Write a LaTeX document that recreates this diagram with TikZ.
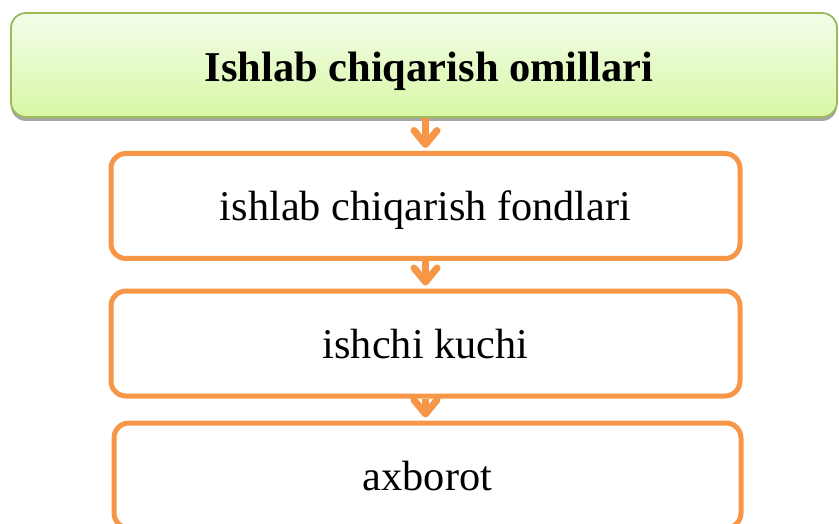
\documentclass[tikz,border=0pt]{standalone}
\usepackage{fontspec}
\setmainfont{Liberation Serif}
\usetikzlibrary{arrows.meta,shadows}
\definecolor{ogreen}{HTML}{9BBB59}
\definecolor{gtop}{HTML}{F3FDE9}
\definecolor{gbot}{HTML}{D8F7A6}
\definecolor{oorange}{HTML}{F79646}
\begin{document}
\begin{tikzpicture}[x=1pt,y=-1pt,
  titlebox/.style={draw=ogreen, line width=1.8pt, rounded corners=15pt,
    top color=gtop, bottom color=gbot, minimum width=826pt, minimum height=104pt,
    font=\fontsize{42.5}{50}\selectfont\bfseries, text height=34pt, text depth=0pt,
    drop shadow={shadow xshift=0pt, shadow yshift=-4pt, opacity=0.35, fill=black}},
  itembox/.style={draw=oorange, line width=5pt, rounded corners=15pt, fill=white,
    minimum width=629pt, minimum height=105pt, font=\fontsize{42.3}{50}\selectfont,
    text height=29pt, text depth=0pt},
  flow/.style={draw=oorange, line width=7pt, shorten >=3pt,
    -{Straight Barb[length=14pt,width=23pt,line cap=round,line join=round]}}]
\useasboundingbox (0,0) rectangle (839,524);
\node[titlebox] (title) at (424,65) {\hspace*{10pt}Ishlab chiqarish omillari};
\node[itembox] (fond) at (425.5,206) {ishlab chiqarish fondlari};
\node[itembox] (ishchi) at (425.5,343.5) {ishchi kuchi};
\node[itembox, minimum width=627pt] (axb) at (427.5,475.5) {axborot};
\draw[flow] (title.south -| fond.north) -- (fond.north);
\draw[flow] (fond.south) -- (ishchi.north);
\draw[flow] (ishchi.south) -- (ishchi.south |- axb.north);
\end{tikzpicture}
\end{document}
